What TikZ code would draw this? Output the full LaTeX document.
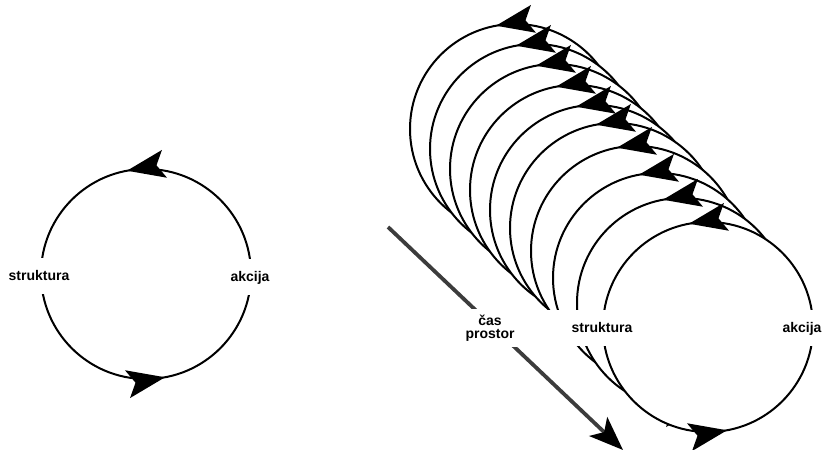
\documentclass[tikz,border=0pt]{standalone}
\usepackage{fontspec}
\setmainfont{Liberation Sans}
\usetikzlibrary{arrows.meta,decorations.markings}
\definecolor{arrowgray}{RGB}{60,60,60}
\tikzset{
  bigtip/.tip={Stealth[length=38pt,width=28pt,inset=8pt]},
  ring/.style={line width=2pt, fill=white, postaction={decorate},
    decoration={markings,
      mark=at position 0.279 with {\arrow{bigtip}},
      mark=at position 0.779 with {\arrow{bigtip}}}},
  lab/.style={fill=white, inner sep=0pt, font=\bfseries\fontsize{14}{14}\selectfont,
    text height=9.5pt, text depth=0pt, minimum height=36pt},
  flow/.style={line width=3.8pt, draw=arrowgray,
    -{Stealth[length=34pt,width=26pt,inset=8pt,color=black]}}
}
\begin{document}
\begin{tikzpicture}[x=1pt,y=-1pt]
\useasboundingbox (0,0) rectangle (825,450);
\clip (0,0) rectangle (825,450);
% left cycle
\draw[ring] (146+105,274) arc[start angle=0,end angle=360,radius=105pt];
\node[lab, minimum width=120pt] (s1) at (39,276) {struktura};
\node[lab, minimum width=50pt] (a1) at (250,277) {akcija};
% stacked cycles (back to front)
\foreach \cx/\cy in {515/129, 535/149, 555/169, 575/190, 595/210, 615/228, 636/251, 658/278, 682/303, 708/327}
  \draw[ring] (\cx+105,\cy) arc[start angle=0,end angle=360,radius=105pt];
% time/space arrow
\coordinate (ts) at (388,227);
\coordinate (te) at (623,450);
\draw[flow] (ts) -- (te);
\node[fill=white, inner xsep=4pt, inner ysep=6pt, align=center,
  font=\bfseries\fontsize{14}{13}\selectfont] (cp) at (490,328) {čas\\prostor};
\node[lab, minimum width=120pt] (s2) at (602,328) {struktura};
\node[lab, minimum width=44pt] (a2) at (802,328) {akcija};
\end{tikzpicture}
\end{document}
